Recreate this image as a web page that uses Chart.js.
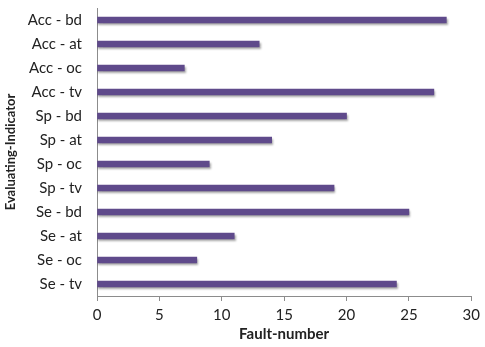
<!DOCTYPE html>
<html>
<head>
<meta charset="utf-8">
<script src="https://cdn.jsdelivr.net/npm/chart.js@4/dist/chart.umd.min.js"></script>
<style>
html,body{margin:0;padding:0;background:#fff;}
#wrap{width:485px;height:347px;position:relative;}
</style>
</head>
<body>
<div id="wrap"><canvas id="c" width="485" height="347"></canvas></div>
<script>
const categories = ["Acc - bd","Acc - at","Acc - oc","Acc - tv","Sp - bd","Sp - at","Sp - oc","Sp - tv","Se - bd","Se - at","Se - oc","Se - tv"];
const faultNumbers = [28,13,7,27,20,14,9,19,25,11,8,24];
const xTicks = [0,5,10,15,20,25,30];
const xTitle = "Fault-number";
const yTitle = "Evaluating-Indicator";

const shadowPlugin = {
  id:'shadow',
  beforeDatasetDraw(chart){ const c=chart.ctx; c.save(); c.shadowColor='rgba(0,0,0,0.35)'; c.shadowBlur=2; c.shadowOffsetX=1; c.shadowOffsetY=2; },
  afterDatasetDraw(chart){ chart.ctx.restore(); }
};

const font = "Lato, 'Open Sans', sans-serif";
new Chart(document.getElementById('c'), {
  type:'bar',
  data:{ labels:categories, datasets:[{ data:faultNumbers, backgroundColor:'#5f4a8b', barThickness:6, borderWidth:0 }]},
  options:{
    indexAxis:'y', responsive:false, animation:false,
    layout:{padding:{top:8,right:13,left:0,bottom:0}},
    plugins:{legend:{display:false},tooltip:{enabled:false}},
    scales:{
      x:{
        min:0,max:30,
        afterBuildTicks(s){ s.ticks = xTicks.map(v=>({value:v})); },
        afterFit(s){ s.height = 51; },
        grid:{drawOnChartArea:false, color:'#8c8c8c', tickLength:5},
        border:{color:'#8c8c8c'},
        ticks:{color:'#222', font:{family:font,size:15}, padding:5},
        title:{display:true,text:xTitle,color:'#222',font:{family:font,size:15,weight:'bold'},padding:{top:5}}
      },
      y:{
        afterFit(s){ s.width = 97; s.paddingTop = 0; s.paddingBottom = 0; },
        grid:{drawOnChartArea:false, drawTicks:false, color:'#8c8c8c'},
        border:{color:'#8c8c8c'},
        ticks:{color:'#222', font:{family:font,size:15}, padding:15},
        title:{display:true,text:yTitle,color:'#222',font:{family:font,size:13,weight:'bold'},padding:{bottom:0,top:3}}
      }
    }
  },
  plugins:[shadowPlugin]
});
</script>
</body>
</html>
